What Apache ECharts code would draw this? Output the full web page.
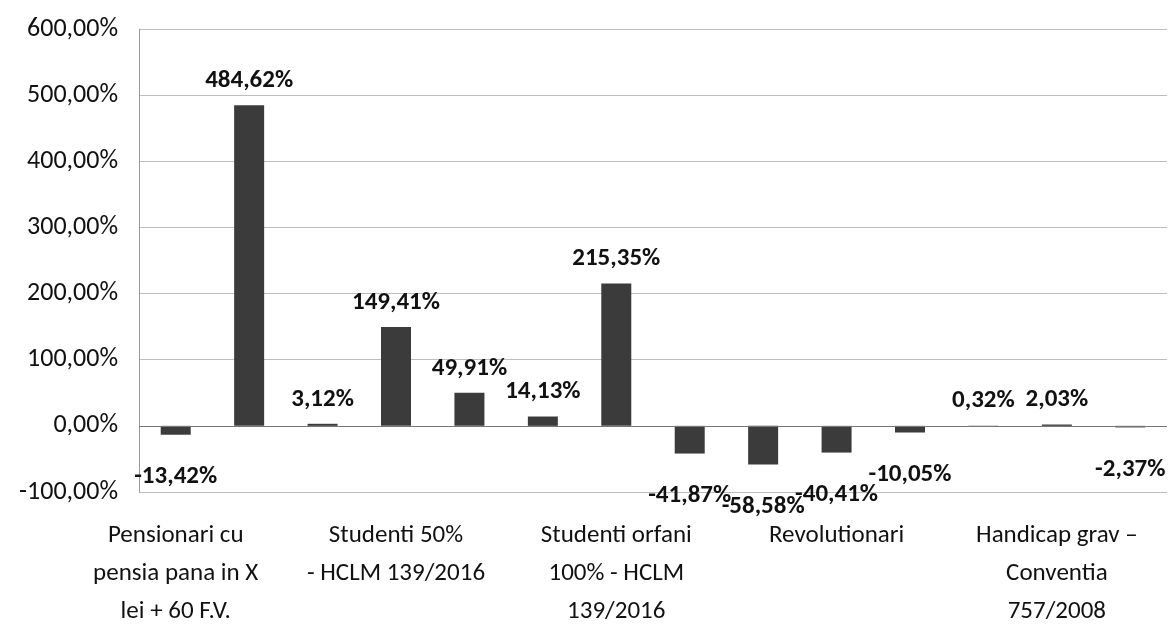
<!DOCTYPE html>
<html>
<head>
<meta charset="utf-8">
<script src="https://cdn.jsdelivr.net/npm/echarts@6/dist/echarts.min.js"></script>
<style>
html,body{margin:0;padding:0;background:#fff;}
#chart{width:1168px;height:625px;}
</style>
</head>
<body>
<div id="chart"></div>
<script>
// Categories (only every third label is shown in the original chart)
const categories = [
  'Pensionari cu\npensia pana in X\nlei + 60 F.V.', ' ', '  ',
  'Studenti 50%\n- HCLM 139/2016', '   ', '    ',
  'Studenti orfani\n100% - HCLM\n139/2016', '     ', '      ',
  'Revolutionari', '       ', '        ',
  'Handicap grav –\nConventia\n757/2008', '         '
];
// Percentage change values
const values = [-13.42, 484.62, 3.12, 149.41, 49.91, 14.13, 215.35, -41.87, -58.58, -40.41, -10.05, 0.32, 2.03, -2.37];
// Y axis range
const yMin = -100, yMax = 600, yStep = 100;

const fmt = v => v.toFixed(2).replace('.', ',') + '%';
const FONT = 'Carlito, Lato, sans-serif';

const chart = echarts.init(document.getElementById('chart'));
chart.setOption({
  animation: false,
  backgroundColor: '#fff',
  grid: { left: 139, right: 1, top: 29, bottom: 133, containLabel: false, outerBoundsMode: 'none' },
  xAxis: {
    type: 'category',
    data: categories,
    axisLine: { show: false },
    axisTick: { show: false },
    axisLabel: {
      interval: 2,
      color: '#111',
      fontFamily: FONT,
      fontSize: 25,
      lineHeight: 38,
      margin: 25
    }
  },
  yAxis: {
    type: 'value',
    min: yMin, max: yMax, interval: yStep,
    axisLine: { show: true, lineStyle: { color: '#999', width: 1 } },
    axisTick: { show: false },
    splitLine: { show: true, lineStyle: { color: '#bdbdbd', width: 1 } },
    axisLabel: {
      color: '#111',
      fontFamily: FONT,
      fontSize: 26,
      margin: 21,
      formatter: v => v.toFixed(2).replace('.', ',') + '%'
    }
  },
  series: [{
    type: 'bar',
    data: values.map(v => ({
      value: v,
      label: { position: v < 0 ? 'bottom' : 'top', distance: v < 0 ? 30 : 12 }
    })),
    barWidth: 30,
    itemStyle: { color: '#3b3b3b' },
    label: {
      show: true,
      color: '#111',
      fontFamily: FONT,
      fontWeight: 'bold',
      fontSize: 25,
      formatter: p => fmt(p.value)
    },
    markLine: {
      silent: true,
      symbol: 'none',
      label: { show: false },
      lineStyle: { color: '#777', type: 'solid', width: 1 },
      data: [{ yAxis: 0 }]
    }
  }]
});
</script>
</body>
</html>
